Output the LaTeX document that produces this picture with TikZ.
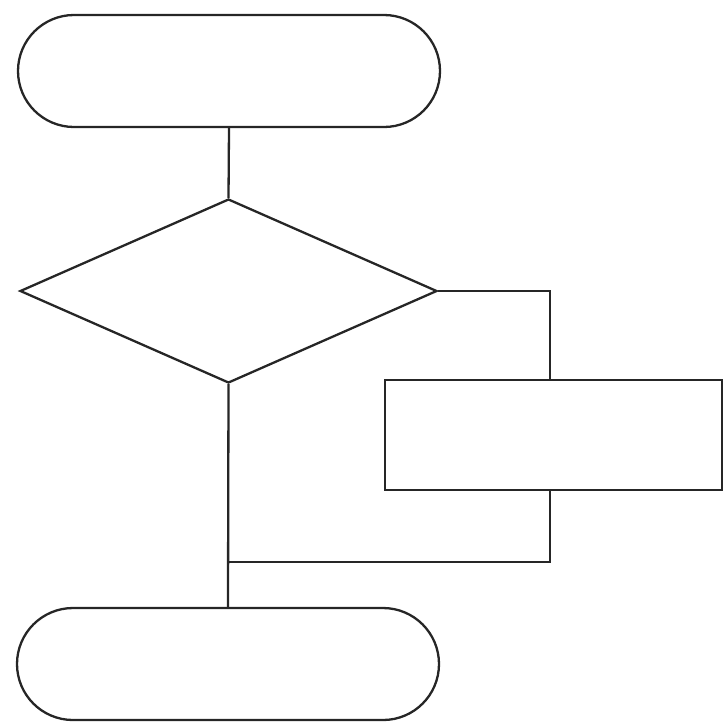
\documentclass[tikz,border=0pt]{standalone}
\usetikzlibrary{shapes.geometric,shapes.misc}
\begin{document}
\begin{tikzpicture}[x=1pt,y=-1pt,
  ln/.style={line width=2.3pt,draw=black!85},
  term/.style={ln,rounded rectangle,minimum width=422pt,minimum height=112pt,inner sep=0pt},
  dec/.style={ln,diamond,minimum width=417pt,minimum height=184pt,inner sep=0pt},
  proc/.style={ln,rectangle,minimum width=337pt,minimum height=110pt,inner sep=0pt}]
\useasboundingbox (0,0) rectangle (727,724);
\node[term] (start) at (229,71) {};
\node[dec] (cond) at (228.5,291) {};
\node[proc] (act) at (553.5,435) {};
\node[term] (end) at (228,664) {};
\coordinate (rt) at (550,291);
\coordinate (rb) at (550,562);
\coordinate (j) at (229,562);
\draw[ln] (start.south) -- (cond.north);
\draw[ln] (cond.east) -- (rt) -- (rt |- act.north);
\draw[ln] (rb |- act.south) -- (rb) -- (j);
\draw[ln] (cond.south) -- (end.north);
\end{tikzpicture}
\end{document}
